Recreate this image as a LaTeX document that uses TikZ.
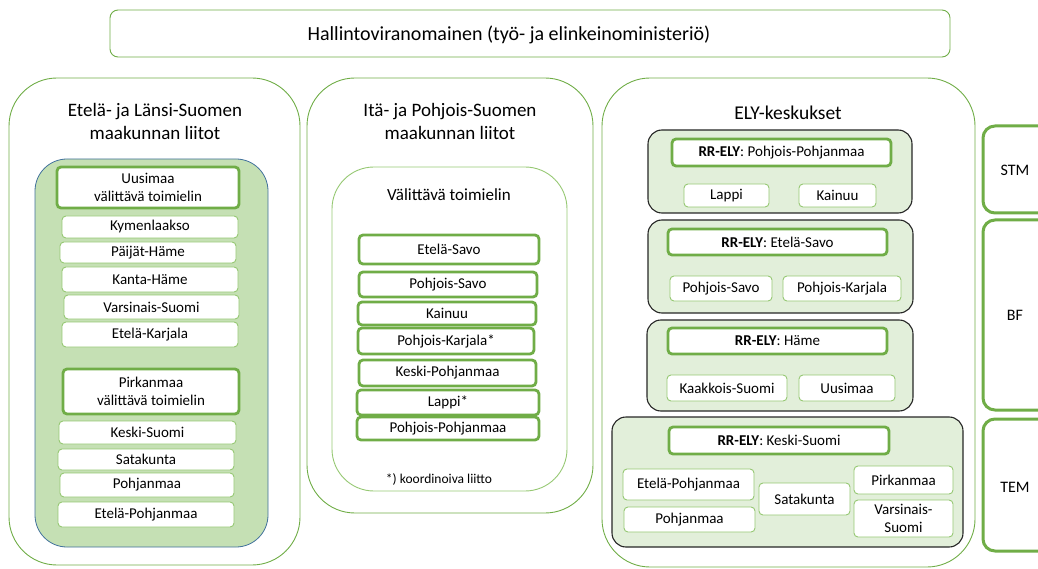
\documentclass[tikz,border=0pt]{standalone}
\usepackage{fontspec}
\setmainfont{Carlito}
\usetikzlibrary{positioning}
\definecolor{elygreen}{RGB}{112,173,71}
\definecolor{thingreen}{RGB}{150,200,115}
\definecolor{lightgreen}{RGB}{197,224,180}
\definecolor{palegreen}{RGB}{226,239,218}
\definecolor{panelblue}{RGB}{65,113,156}

\begin{document}
\begin{tikzpicture}[x=1pt, y=-1pt,
  panel/.style={draw=elygreen, line width=0.9pt, rounded corners=48pt},
  title/.style={font=\fontsize{19}{23}\selectfont, align=center, inner sep=0pt},
  region/.style={draw=thingreen, fill=white, rounded corners=4pt, line width=0.9pt,
    font=\fontsize{15}{18}\selectfont, align=center, inner sep=0pt},
  lead/.style={region, draw=elygreen, line width=2.8pt},
  group/.style={draw=black!85, fill=palegreen, rounded corners=14pt, line width=1.1pt},
  side/.style={draw=elygreen, line width=3pt, rounded corners=12pt},
  sidelabel/.style={font=\fontsize{16}{19}\selectfont},
]
  \clip (0,0) rectangle (1038,569);
  \useasboundingbox (0,0) rectangle (1038,569);

  % hallintoviranomainen
  \node[region, draw=elygreen, rounded corners=8pt, minimum width=840, minimum height=47] (hvo) at (530,33.5) {};
  \node[font=\fontsize{20}{24}\selectfont] (hvotext) at (509,35) {Hallintoviranomainen (työ- ja elinkeinoministeriö)};

  % Etelä- ja Länsi-Suomi
  \draw[panel] (9,78) rectangle (300,565);
  \node[title] (etla) at (155,121) {Etelä- ja Länsi-Suomen\\maakunnan liitot};
  \draw[draw=panelblue, fill=lightgreen, line width=0.8pt, rounded corners=32pt] (35,159) rectangle (268,547);
  \node[lead, minimum width=182, minimum height=41] (uus) at (148,187.5) {Uusimaa\\välittävä toimielin};
  \node[region, minimum width=176, minimum height=22] (kym) at (150,227) {Kymenlaakso};
  \node[region, minimum width=176, minimum height=21] (pha) at (148,252.5) {Päijät-Häme};
  \node[region, minimum width=176, minimum height=25] (kha) at (150,279.5) {Kanta-Häme};
  \node[region, minimum width=175, minimum height=24] (vsu) at (151.5,307) {Varsinais-Suomi};
  \node[region, minimum width=176, minimum height=25] (eka) at (150,334.5) {Etelä-Karjala};
  \node[lead, minimum width=176, minimum height=45] (pir) at (151,391.5) {Pirkanmaa\\välittävä toimielin};
  \node[region, minimum width=177, minimum height=23] (ksu) at (147.5,432.5) {Keski-Suomi};
  \node[region, minimum width=176, minimum height=21] (sat) at (146,459.5) {Satakunta};
  \node[region, minimum width=174, minimum height=24] (pohj) at (147,485) {Pohjanmaa};
  \node[region, minimum width=176, minimum height=25] (epo) at (146,514.5) {Etelä-Pohjanmaa};

  % Itä- ja Pohjois-Suomi
  \draw[panel] (307,78) rectangle (593,513);
  \node[title] (itpo) at (450,121) {Itä- ja Pohjois-Suomen\\maakunnan liitot};
  \draw[draw=thingreen, line width=0.9pt, rounded corners=42pt] (332,167) rectangle (567,491);
  \node[title, font=\fontsize{17}{20}\selectfont] (valit) at (449,195) {Välittävä toimielin};
  \node[lead, minimum width=180, minimum height=29] (esa) at (449,249.5) {Etelä-Savo};
  \node[lead, minimum width=178, minimum height=25] (psa) at (448,284.5) {Pohjois-Savo};
  \node[lead, minimum width=178, minimum height=23] (kai) at (447,313.5) {Kainuu};
  \node[lead, minimum width=176, minimum height=26] (pka) at (446,341) {Pohjois-Karjala*};
  \node[lead, minimum width=177, minimum height=26] (kpo) at (447.5,373) {Keski-Pohjanmaa};
  \node[lead, minimum width=182, minimum height=25] (lap) at (448,402.5) {Lappi*};
  \node[lead, minimum width=182, minimum height=23] (ppo) at (448,428.5) {Pohjois-Pohjanmaa};
  \node[font=\fontsize{13.5}{16}\selectfont] (koord) at (439,479) {*) koordinoiva liitto};

  % ELY-keskukset
  \draw[panel] (602,78) rectangle (975,567);
  \node[title, font=\fontsize{19.5}{23}\selectfont] (ely) at (788,113) {ELY-keskukset};

  \draw[group] (648,130) rectangle (912,213);
  \node[lead, minimum width=219, minimum height=27] (rr1) at (781.5,152.5) {\textbf{RR-ELY}: Pohjois-Pohjanmaa};
  \node[region, minimum width=85, minimum height=23] (e1a) at (726.5,195.5) {Lappi};
  \node[region, minimum width=77, minimum height=23] (e1b) at (837.5,195.5) {Kainuu};

  \draw[group] (648,220) rectangle (913,313);
  \node[lead, minimum width=219, minimum height=26] (rr2) at (777.5,242) {\textbf{RR-ELY}: Etelä-Savo};
  \node[region, minimum width=102, minimum height=25] (e2a) at (721,288.5) {Pohjois-Savo};
  \node[region, minimum width=118, minimum height=25] (e2b) at (842,288.5) {Pohjois-Karjala};

  \draw[group] (647,320) rectangle (913,411);
  \node[lead, minimum width=219, minimum height=26] (rr3) at (777.5,341) {\textbf{RR-ELY}: Häme};
  \node[region, minimum width=120, minimum height=26] (e3a) at (727,388) {Kaakkois-Suomi};
  \node[region, minimum width=96, minimum height=26] (e3b) at (847,388) {Uusimaa};

  \draw[group] (612,417) rectangle (963,547);
  \node[lead, minimum width=220, minimum height=27] (rr4) at (779,440.5) {\textbf{RR-ELY}: Keski-Suomi};
  \node[region, minimum width=131, minimum height=31] (e4a) at (688.5,484.5) {Etelä-Pohjanmaa};
  \node[region, minimum width=131, minimum height=25] (e4b) at (689.5,519.5) {Pohjanmaa};
  \node[region, minimum width=91, minimum height=32] (e4c) at (804.5,499) {Satakunta};
  \node[region, minimum width=99, minimum height=28] (e4d) at (903.5,480) {Pirkanmaa};
  \node[region, minimum width=99, minimum height=37] (e4e) at (903.5,518.5) {Varsinais-\\Suomi};

  % rahoittajat
  \draw[side] (983,126) rectangle (1070,213);
  \node[sidelabel] (stm) at (1015,170) {STM};
  \draw[side] (983,220) rectangle (1070,410);
  \node[sidelabel] (bf) at (1015,315) {BF};
  \draw[side] (983,419) rectangle (1070,551);
  \node[sidelabel] (temr) at (1015,487) {TEM};
\end{tikzpicture}
\end{document}
